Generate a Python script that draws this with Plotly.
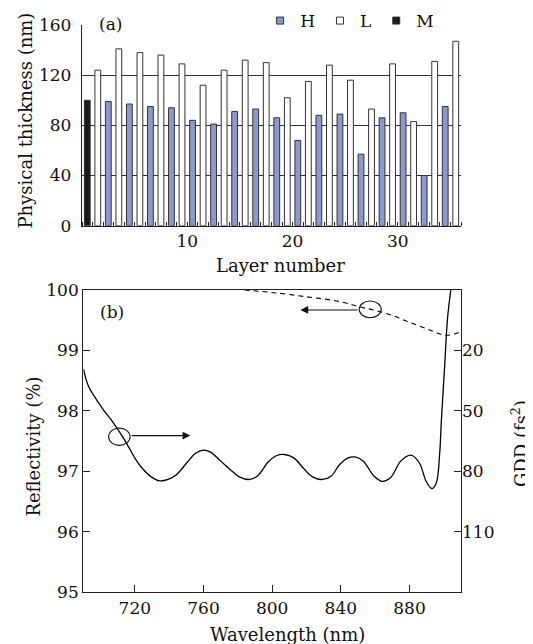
import plotly.graph_objects as go

# ---------------- data: panel (a) ----------------
layers = list(range(1, 37))
material = ["M", "L", "H", "L", "H", "L", "H", "L", "H", "L", "H", "L",
            "H", "L", "H", "L", "H", "L", "H", "L", "H", "L", "H", "L",
            "H", "L", "H", "L", "H", "L", "H", "L", "H", "L", "H", "L"]
thickness = [100, 124, 99, 141, 97, 138, 95, 136, 94, 129, 84, 112,
             81, 124, 91, 132, 93, 130, 86, 102, 68, 115, 88, 128,
             89, 116, 57, 93, 86, 129, 90, 83, 40, 131, 95, 147]
series_names = ["H", "L", "M"]
series_fill = {"H": "#8c99cf", "L": "#ffffff", "M": "#1a1a1a"}

# ---------------- data: panel (b) ----------------
gdd_wl = [690.2, 693.0, 700.9, 706.8, 712.7, 716.7, 720.6, 724.6, 729.5, 734.5,
          739.4, 744.4, 750.3, 755.2, 759.8, 764.1, 770.1, 776.0, 780.9, 786.9,
          791.8, 797.8, 802.7, 807.2, 812.6, 818.5, 823.5, 829.4, 834.3, 839.3,
          844.2, 848.2, 853.1, 859.0, 864.0, 868.9, 874.9, 880.8, 885.7, 889.7,
          893.0, 895.6, 897.6, 898.6, 900.6, 902.1, 904.1]
gdd_val = [29.4, 37.7, 48.5, 55.1, 62.6, 68.4, 74.2, 78.8, 82.8, 84.8,
           84.1, 81.6, 75.8, 71.2, 69.5, 70.5, 75.0, 79.5, 82.8, 84.1,
           82.1, 75.3, 72.2, 71.7, 73.4, 78.8, 82.8, 84.1, 82.5, 76.7,
           73.4, 72.9, 75.0, 82.1, 85.0, 83.3, 75.0, 72.0, 75.8, 85.0,
           88.6, 85.8, 70.9, 54.3, 26.1, 4.6, -10.3]
refl_wl = [783.9, 799.7, 819.5, 839.3, 851.1, 859.0, 868.9, 878.8, 890.7, 901.5, 909.8]
refl_val = [100.0, 99.96, 99.89, 99.81, 99.72, 99.67, 99.59, 99.48, 99.35, 99.25, 99.31]

FONT = "DejaVu Serif"
AX = "#222222"

fig = go.Figure()

bar_width = 0.55
for name in series_names:
    xs = [l for l, m in zip(layers, material) if m == name]
    ys = [t for t, m in zip(thickness, material) if m == name]
    fig.add_trace(go.Bar(
        x=xs, y=ys, name=name, showlegend=False,
        width=bar_width, offset=-0.5 - bar_width / 2,
        marker=dict(color=series_fill[name], line=dict(color="#333333", width=1)),
        xaxis="x", yaxis="y"))
    # legend marker
    fig.add_trace(go.Scatter(
        x=[None], y=[None], mode="markers", name=name,
        marker=dict(symbol="square", size=7, color=series_fill[name],
                    line=dict(color="#333333", width=1)),
        xaxis="x", yaxis="y"))

fig.add_trace(go.Scatter(
    x=refl_wl, y=refl_val, mode="lines", line=dict(color="black", width=1.1, dash="5px,4px"),
    line_shape="spline", showlegend=False, xaxis="x2", yaxis="y2"))
fig.add_trace(go.Scatter(
    x=gdd_wl, y=gdd_val, mode="lines", line=dict(color="black", width=1.3),
    line_shape="spline", showlegend=False, xaxis="x2", yaxis="y3"))

tickfont = dict(family=FONT, size=17, color="#111")

# page body has an 8px margin: figure is drawn 8px right / 8px down
fig.update_layout(
    width=525, height=636,
    margin=dict(l=74, r=72, t=17, b=52, autoexpand=False),
    paper_bgcolor="white", plot_bgcolor="white",
    barmode="overlay",
    font=dict(family=FONT, size=17, color="#111"),
    showlegend=True,
    legend=dict(orientation="h", x=0.47, y=1.007, xanchor="left", yanchor="middle",
                font=dict(family=FONT, size=17), bgcolor="rgba(0,0,0,0)",
                itemwidth=30, tracegroupgap=0),
    xaxis=dict(domain=[0, 1], anchor="y", range=[0, 36], tickmode="array",
               tickvals=[10, 20, 30], ticks="", showgrid=False, zeroline=False,
               showline=True, linecolor=AX, linewidth=1.3, tickfont=tickfont,
               minor=dict(tickmode="linear", tick0=0, dtick=1, ticks="inside",
                          ticklen=4, tickcolor=AX, tickwidth=1, showgrid=False)),
    yaxis=dict(domain=[0.646, 1], anchor="x", range=[0, 160], tickmode="array",
               tickvals=[0, 40, 80, 120, 160], ticks="", showgrid=False, zeroline=False,
               showline=True, linecolor=AX, linewidth=1.3, tickfont=tickfont,
               ticklabelstandoff=6,
               minor=dict(tickmode="array", tickvals=[40, 80, 120], showgrid=True,
                          gridcolor="#333333", gridwidth=1.1, ticks="")),
    xaxis2=dict(domain=[0.0034, 1], anchor="y2", range=[690, 910], tickmode="array",
                tickvals=[720, 760, 800, 840, 880], ticks="inside", ticklen=7,
                tickcolor=AX, showgrid=False, zeroline=False, showline=True,
                mirror=True, linecolor=AX, linewidth=1.3, tickfont=tickfont),
    yaxis2=dict(domain=[0, 0.5326], anchor="x2", range=[95, 100], tickmode="array",
                tickvals=[95, 96, 97, 98, 99, 100], ticks="inside", ticklen=7,
                tickcolor=AX, showgrid=False, zeroline=False, showline=True,
                mirror=True, linecolor=AX, linewidth=1.3, tickfont=tickfont),
    yaxis3=dict(overlaying="y2", side="right", anchor="x2", range=[140, -10],
                tickmode="array", tickvals=[20, 50, 80, 110], ticks="inside",
                ticklen=7, tickcolor=AX, showgrid=False, zeroline=False,
                showline=False, tickfont=tickfont),
)

ann = []
def txt(t, x, y, angle=0, size=18):
    ann.append(dict(text=t, x=x, y=y, xref="paper", yref="paper", showarrow=False,
                    xanchor="center", yanchor="middle", textangle=angle,
                    font=dict(family=FONT, size=size, color="#111")))

txt("(a)", 0.0765, 1.001, size=17)
txt("(b)", 0.0792, 0.4944, size=17)
txt("Layer number", 0.525, 0.5767)
txt("Wavelength (nm)", 0.541, -0.0758)
txt("Physical thickness (nm)", -0.149, 0.8307, -90)
txt("Reflectivity (%)", -0.129, 0.2566, -90)
txt("GDD (fs<sup>2</sup>)", 1.1557, 0.261, -90)

# arrows pointing to the matching axis
ann.append(dict(x=816.5, y=99.67, ax=850.7, ay=99.67, xref="x2", yref="y2",
                axref="x2", ayref="y2", text="", showarrow=True, arrowhead=2,
                arrowsize=1.4, arrowwidth=1.1, arrowcolor="#111"))
ann.append(dict(x=752.3, y=97.59, ax=717.3, ay=97.59, xref="x2", yref="y2",
                axref="x2", ayref="y2", text="", showarrow=True, arrowhead=2,
                arrowsize=1.4, arrowwidth=1.1, arrowcolor="#111"))
fig.update_layout(annotations=ann)

fig.update_layout(shapes=[
    dict(type="circle", xref="x2", yref="y2", x0=857.1 - 6.4, x1=857.1 + 6.4,
         y0=99.68 - 0.138, y1=99.68 + 0.138, line=dict(color="#111", width=1.1)),
    dict(type="circle", xref="x2", yref="y2", x0=711.0 - 6.25, x1=711.0 + 6.25,
         y0=97.57 - 0.143, y1=97.57 + 0.143, line=dict(color="#111", width=1.1)),
])

fig.write_html("out.html")
